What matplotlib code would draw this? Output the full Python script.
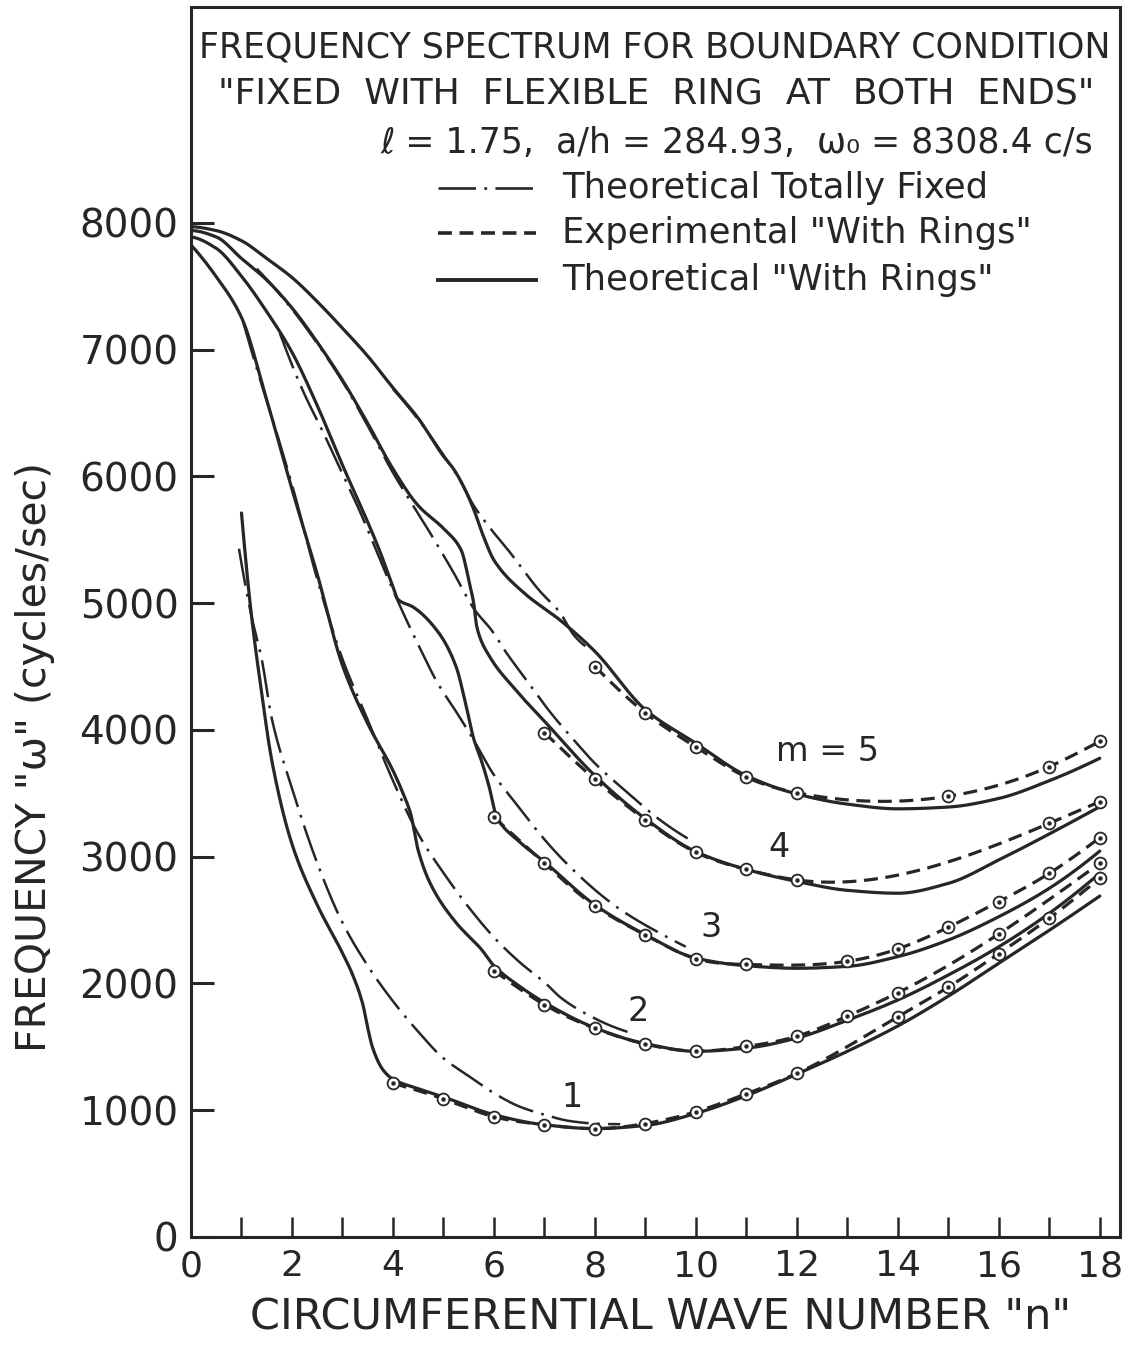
import numpy as np
import matplotlib
matplotlib.use("Agg")
import matplotlib.pyplot as plt
from matplotlib.lines import Line2D

plt.rcParams['font.family'] = ['DejaVu Sans']
plt.rcParams['lines.scale_dashes'] = False

INK = '#262626'

# ---------------- data ----------------
# Theoretical "With Rings" (solid)
ring_n1 = [1.0, 1.2, 1.4, 1.6, 2.0, 2.5, 3.0, 3.2, 3.4, 3.5, 3.6, 3.8, 4.0, 4.5, 5, 6, 7, 8, 9, 10, 11, 12, 13, 14, 15, 16, 17, 18]
ring_f1 = [5712, 4895, 4292, 3760, 3100, 2620, 2240, 2070, 1840, 1650, 1490, 1320, 1245, 1170, 1105, 965, 885, 855, 880, 975, 1115, 1285, 1465, 1665, 1900, 2160, 2420, 2690]
ring_n2 = [0, 0.5, 1.0, 1.5, 2.0, 2.5, 3.0, 3.5, 4.0, 4.2, 4.35, 4.5, 4.75, 5.25, 5.75, 6, 6.5, 7, 8, 9, 10, 11, 12, 13, 14, 15, 16, 17, 18]
ring_f2 = [7826, 7576, 7255, 6604, 5900, 5230, 4510, 4050, 3680, 3500, 3340, 3050, 2780, 2480, 2270, 2140, 1980, 1850, 1650, 1525, 1465, 1490, 1570, 1710, 1870, 2067, 2290, 2554, 2870]
ring_n3 = [0, 0.5, 1.0, 1.5, 2.0, 2.5, 3.0, 3.5, 3.75, 4.0, 4.1, 4.4, 4.9, 5.25, 5.45, 5.6, 5.75, 5.9, 6.05, 6.5, 7, 8, 9, 10, 11, 12, 13, 14, 15, 16, 17, 18]
ring_f3 = [7890, 7800, 7580, 7300, 6980, 6560, 6090, 5640, 5400, 5130, 5030, 4970, 4770, 4500, 4190, 3930, 3760, 3560, 3320, 3120, 2960, 2620, 2385, 2200, 2140, 2120, 2135, 2212, 2343, 2527, 2751, 3045]
ring_n4 = [0, 0.5, 1.0, 1.5, 2.0, 2.5, 3.0, 3.5, 4.0, 4.5, 5.0, 5.35, 5.53, 5.6, 5.66, 5.92, 6.38, 7.04, 8, 9, 10, 11, 12, 13, 14, 15, 16, 17, 18]
ring_f4 = [7940, 7890, 7720, 7550, 7330, 7060, 6760, 6420, 6060, 5770, 5590, 5420, 5130, 5000, 4815, 4576, 4339, 4052, 3640, 3300, 3040, 2900, 2805, 2735, 2712, 2790, 2975, 3180, 3395]
ring_n5 = [0, 0.5, 1.0, 1.5, 2.0, 2.5, 3.0, 3.5, 4.0, 4.5, 5.0, 5.2, 5.4, 5.6, 5.8, 6.0, 6.6, 7.3, 8.0, 9, 10, 11, 12, 13, 14, 15, 16, 17, 18]
ring_f5 = [7971, 7940, 7860, 7720, 7570, 7380, 7170, 6950, 6700, 6460, 6160, 6060, 5920, 5740, 5520, 5340, 5080, 4870, 4620, 4160, 3895, 3640, 3495, 3415, 3378, 3392, 3460, 3600, 3777]

# Theoretical Totally Fixed (dash-dot)
fixed_n1 = [0.95, 1.2, 1.4, 1.6, 2.0, 2.5, 3.0, 3.5, 4.0, 4.5, 5.0, 5.5, 6.0, 6.5, 7.0, 7.5, 8.0, 8.5]
fixed_f1 = [5430, 4895, 4560, 4090, 3540, 2950, 2480, 2140, 1860, 1620, 1410, 1270, 1135, 1030, 965, 915, 895, 890]
fixed_n2 = [1.04, 1.33, 1.66, 2.03, 2.5, 3.0, 3.5, 4.0, 4.5, 5.06, 5.43, 6.02, 6.52, 7.0, 7.34, 7.87, 8.36, 8.8]
fixed_f2 = [7210, 6815, 6393, 5893, 5190, 4560, 4080, 3600, 3180, 2839, 2637, 2356, 2164, 2010, 1883, 1751, 1659, 1600]
fixed_n3 = [1.76, 2.19, 2.69, 3.0, 3.35, 3.8, 4.2, 4.6, 4.87, 5.26, 5.59, 6.0, 6.38, 6.98, 7.37, 8.08, 8.56, 9.35, 9.8]
fixed_f3 = [7130, 6700, 6288, 6020, 5720, 5290, 4925, 4592, 4380, 4139, 3927, 3645, 3448, 3146, 2975, 2712, 2568, 2383, 2290]
fixed_n4 = [1.3, 2.0, 2.5, 3.0, 3.5, 4.0, 4.4, 4.7, 5.19, 5.62, 5.95, 6.25, 6.74, 7.08, 7.64, 8.0, 8.66, 9.29, 9.9]
fixed_f4 = [7640, 7320, 7050, 6750, 6400, 6030, 5770, 5578, 5249, 4947, 4789, 4607, 4343, 4158, 3895, 3737, 3501, 3290, 3130]
fixed_n5 = [4.0, 4.5, 5.0, 5.3, 5.6, 5.95, 6.3, 6.9, 7.3, 7.6, 7.9]
fixed_f5 = [6690, 6450, 6170, 5990, 5770, 5580, 5410, 5100, 4930, 4740, 4640]

# Experimental "With Rings" (dashed, circles)
exp_n1 = [4, 5, 6, 7, 8, 9, 10, 11, 12, 14, 15, 16, 17, 18]
exp_f1 = [1213, 1089, 949, 886, 855, 895, 988, 1130, 1291, 1738, 1972, 2236, 2515, 2830]
exp_n2 = [6, 7, 8, 9, 10, 11, 12, 13, 14, 16, 18]
exp_f2 = [2101, 1833, 1646, 1522, 1467, 1503, 1584, 1742, 1927, 2391, 2948]
exp_n3 = [6, 7, 8, 9, 10, 11, 13, 14, 15, 16, 17, 18]
exp_f3 = [3311, 2948, 2611, 2383, 2196, 2150, 2175, 2273, 2444, 2646, 2869, 3150]
exp_n4 = [7, 8, 9, 10, 11, 12, 17, 18]
exp_f4 = [3979, 3610, 3290, 3035, 2900, 2817, 3264, 3435]
exp_n5 = [8, 9, 10, 11, 12, 15, 17, 18]
exp_f5 = [4500, 4134, 3866, 3628, 3505, 3477, 3711, 3910]

mode_labels = ['1', '2', '3', '4', 'm = 5']
mode_label_n = [7.55, 8.85, 10.3, 11.65, 12.6]
mode_label_f = [1100, 1780, 2440, 3070, 3830]

x_ticks = list(range(0, 19))
x_ticklabels = [str(i) if i % 2 == 0 else '' for i in x_ticks]
y_ticks = list(range(0, 9000, 1000))
y_ticklabels = [str(v) for v in y_ticks]

ring = [(ring_n1, ring_f1), (ring_n2, ring_f2), (ring_n3, ring_f3), (ring_n4, ring_f4), (ring_n5, ring_f5)]
fixed = [(fixed_n1, fixed_f1), (fixed_n2, fixed_f2), (fixed_n3, fixed_f3), (fixed_n4, fixed_f4), (fixed_n5, fixed_f5)]
exper = [(exp_n1, exp_f1), (exp_n2, exp_f2), (exp_n3, exp_f3), (exp_n4, exp_f4), (exp_n5, exp_f5)]


# ---------------- smoothing helpers (drawing only) ----------------
def _edge(h0, h1, d0, d1):
    m = ((2 * h0 + h1) * d0 - h0 * d1) / (h0 + h1)
    if np.sign(m) != np.sign(d0):
        m = 0.0
    elif np.sign(d0) != np.sign(d1) and abs(m) > abs(3 * d0):
        m = 3 * d0
    return m


def pchip(x, y, xs):
    x = np.asarray(x, float)
    y = np.asarray(y, float)
    h = np.diff(x)
    d = np.diff(y) / h
    m = np.zeros_like(y)
    for k in range(1, len(x) - 1):
        if d[k - 1] * d[k] > 0:
            w1 = 2 * h[k] + h[k - 1]
            w2 = h[k] + 2 * h[k - 1]
            m[k] = (w1 + w2) / (w1 / d[k - 1] + w2 / d[k])
    m[0] = _edge(h[0], h[1], d[0], d[1])
    m[-1] = _edge(h[-1], h[-2], d[-1], d[-2])
    idx = np.clip(np.searchsorted(x, xs) - 1, 0, len(h) - 1)
    t = (xs - x[idx]) / h[idx]
    h00 = 2 * t**3 - 3 * t**2 + 1
    h10 = t**3 - 2 * t**2 + t
    h01 = -2 * t**3 + 3 * t**2
    h11 = t**3 - t**2
    return h00 * y[idx] + h10 * h[idx] * m[idx] + h01 * y[idx + 1] + h11 * h[idx] * m[idx + 1]


def nat_spline(x, y, xs):
    x = np.asarray(x, float)
    y = np.asarray(y, float)
    n = len(x)
    h = np.diff(x)
    A = np.zeros((n, n))
    b = np.zeros(n)
    A[0, 0] = 1
    A[-1, -1] = 1
    for i in range(1, n - 1):
        A[i, i - 1] = h[i - 1]
        A[i, i] = 2 * (h[i - 1] + h[i])
        A[i, i + 1] = h[i]
        b[i] = 3 * ((y[i + 1] - y[i]) / h[i] - (y[i] - y[i - 1]) / h[i - 1])
    c = np.linalg.solve(A, b)
    a = y[:-1]
    bb = (y[1:] - y[:-1]) / h - h * (2 * c[:-1] + c[1:]) / 3
    dd = (c[1:] - c[:-1]) / (3 * h)
    idx = np.clip(np.searchsorted(x, xs) - 1, 0, n - 2)
    dx = xs - x[idx]
    return a[idx] + bb[idx] * dx + c[idx] * dx**2 + dd[idx] * dx**3


# ---------------- figure ----------------
W, H = 1128, 1345
fig = plt.figure(figsize=(W / 100, H / 100), dpi=100)


def fx(px):
    return px / W


def fy(py):
    return 1 - py / H


ax = fig.add_axes([fx(191), fy(1237), (1120 - 191) / W, (1237 - 7) / H])
ax.set_xlim(0, 18.4)
ax.set_ylim(0, 9704)

DASHDOT = (0, (27, 6, 2, 6))
DASHED = (0, (10, 5.5))

for (n, f) in fixed:
    xs = np.linspace(n[0], n[-1], 500)
    ax.plot(xs, pchip(n, f, xs), color=INK, lw=1.8, linestyle=DASHDOT, zorder=2)

for (n, f) in exper:
    xs = np.linspace(n[0], n[-1], 500)
    ax.plot(xs, nat_spline(n, f, xs), color=INK, lw=2.3, linestyle=DASHED, zorder=3)

for (n, f) in ring:
    xs = np.linspace(n[0], n[-1], 800)
    ax.plot(xs, pchip(n, f, xs), color=INK, lw=2.3, zorder=4, solid_capstyle='round')

for (n, f) in exper:
    ax.plot(n, f, 'o', ms=8.5, mfc='white', mec=INK, mew=1.3, zorder=5, linestyle='none')
    ax.plot(n, f, 'o', ms=2.2, color=INK, zorder=6, linestyle='none')

for lab, n, f in zip(mode_labels, mode_label_n, mode_label_f):
    ax.text(n, f, lab, fontsize=24, color=INK, ha='center', va='center')

for s in ax.spines.values():
    s.set_linewidth(2.2)
    s.set_color(INK)

ax.set_xticks(x_ticks)
ax.set_xticklabels(x_ticklabels)
ax.set_yticks(y_ticks)
ax.set_yticklabels(y_ticklabels)
ax.tick_params(axis='x', direction='in', length=14.5, width=1.8, labelsize=26, pad=9, colors=INK)
ax.tick_params(axis='y', direction='in', length=16.5, width=2.2, labelsize=28, pad=9, colors=INK)

# titles
fig.text(fx(655), fy(47), 'FREQUENCY SPECTRUM FOR BOUNDARY CONDITION', ha='center', va='center',
         fontsize=25, color=INK)
fig.text(fx(656), fy(93), '"FIXED  WITH  FLEXIBLE  RING  AT  BOTH  ENDS"', ha='center', va='center',
         fontsize=26, color=INK)
fig.text(fx(1093), fy(143), 'ℓ = 1.75,  a/h = 284.93,  ω₀ = 8308.4 c/s', ha='right', va='center',
         fontsize=25, color=INK)

# legend (drawn by hand to match placement)
leg_y = [188, 233, 280]
leg_styles = [dict(linestyle=DASHDOT, lw=1.9), dict(linestyle=DASHED, lw=2.6), dict(linestyle='-', lw=2.8)]
leg_text = ['Theoretical Totally Fixed', 'Experimental "With Rings"', 'Theoretical "With Rings"']
for yy, st, tx in zip(leg_y, leg_styles, leg_text):
    fig.add_artist(Line2D([fx(438), fx(536)], [fy(yy), fy(yy)], transform=fig.transFigure,
                          color=INK, **st))
    fig.text(fx(562), fy(yy), tx, ha='left', va='center', fontsize=25.5, color=INK)

# axis labels
fig.text(fx(35), fy(757), 'FREQUENCY "ω" (cycles/sec)', rotation=90, ha='center', va='center',
         fontsize=29.5, color=INK)
fig.text(fx(661), fy(1318), 'CIRCUMFERENTIAL WAVE NUMBER "n"', ha='center', va='center',
         fontsize=31, color=INK)

fig.savefig('out.png', dpi=100, facecolor='white')
